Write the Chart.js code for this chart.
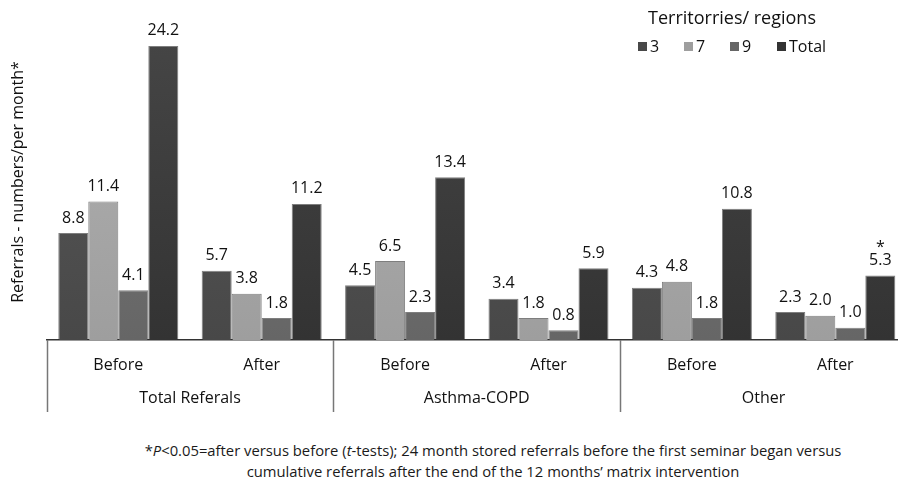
<!DOCTYPE html>
<html>
<head>
<meta charset="utf-8">
<script src="https://cdn.jsdelivr.net/npm/chart.js@4"></script>
<style>
  html, body { margin: 0; padding: 0; background: #fff; overflow: hidden; }
  #wrap { position: relative; width: 898px; height: 484px; overflow: hidden; }
  #box { position: absolute; left: 0; top: 0; width: 910px; height: 425px; }
  #note {
    position: absolute; left: 0; top: 440px; width: 986px;
    text-align: center; font-family: "Open Sans", sans-serif;
    font-size: 14.8px; line-height: 21px; color: #1a1a1a;
  }
</style>
</head>
<body>
<div id="wrap">
  <div id="box"><canvas id="chart"></canvas></div>
  <div id="note">*<i>P</i>&lt;0.05=after versus before (<i>t</i>-tests); 24 month stored referrals before the first seminar began versus<br>cumulative referrals after the end of the 12 months’ matrix intervention</div>
</div>
<script>
// chart data
const periods = ['Before', 'After', 'Before', 'After', 'Before', 'After'];
const groups = ['Total Referals', 'Asthma-COPD', 'Other'];
const seriesNames = ['3', '7', '9', 'Total'];
const region3 = [8.8, 5.7, 4.5, 3.4, 4.3, 2.3];
const region7 = [11.4, 3.8, 6.5, 1.8, 4.8, 2.0];
const region9 = [4.1, 1.8, 2.3, 0.8, 1.8, 1.0];
const regionTotal = [24.2, 11.2, 13.4, 5.9, 10.8, 5.3];
const starred = [[], [], [], [], [], ['Total']];   // significance marks per category

const FONT = '"Open Sans", sans-serif';

// top/bottom shades for each series (slight vertical gradient like the original)
const shades = [
    ['#5a5a5a', '#484848'],
    ['#b2b2b2', '#9e9e9e'],
    ['#7a7a7a', '#666666'],
    ['#464646', '#333333']
];

function gradientFor(i) {
    return function (ctx) {
        const area = ctx.chart.chartArea;
        if (!area) return shades[i][1];
        const g = ctx.chart.ctx.createLinearGradient(0, area.top, 0, area.bottom);
        g.addColorStop(0, shades[i][0]);
        g.addColorStop(1, shades[i][1]);
        return g;
    };
}

// value labels above bars
const valueLabels = {
    id: 'valueLabels',
    afterDatasetsDraw(chart) {
        const ctx = chart.ctx;
        ctx.save();
        ctx.fillStyle = '#111';
        ctx.font = '16px ' + FONT;
        ctx.textAlign = 'center';
        ctx.textBaseline = 'middle';
        chart.data.datasets.forEach((ds, di) => {
            chart.getDatasetMeta(di).data.forEach((bar, i) => {
                const y = bar.y - 15;
                ctx.fillText(ds.data[i].toFixed(1), bar.x, y);
                if (starred[i].indexOf(ds.label) >= 0) {
                    ctx.fillText('*', bar.x, y - 13);
                }
            });
        });
        ctx.restore();
    }
};

// two-level category axis with separators
const groupAxis = {
    id: 'groupAxis',
    afterDraw(chart) {
        const ctx = chart.ctx;
        const x = chart.scales.x;
        const area = chart.chartArea;
        const step = x.getPixelForTick(1) - x.getPixelForTick(0);
        ctx.save();
        ctx.fillStyle = '#111';
        ctx.font = '16px ' + FONT;
        ctx.textAlign = 'center';
        ctx.textBaseline = 'middle';
        periods.forEach((p, i) => ctx.fillText(p, x.getPixelForTick(i), area.bottom + 25));
        ctx.strokeStyle = '#777';
        ctx.lineWidth = 1.5;
        groups.forEach((g, gi) => {
            const left = x.getPixelForTick(gi * 2) - step / 2;
            const right = x.getPixelForTick(gi * 2 + 1) + step / 2;
            ctx.fillText(g, (left + right) / 2, area.bottom + 58);
            ctx.beginPath();
            ctx.moveTo(Math.round(left) + 0.5, area.bottom);
            ctx.lineTo(Math.round(left) + 0.5, area.bottom + 72);
            ctx.stroke();
        });
        ctx.restore();
    }
};

// legend with title, top right
const legendBox = {
    id: 'legendBox',
    afterDraw(chart) {
        const ctx = chart.ctx;
        ctx.save();
        ctx.fillStyle = '#111';
        ctx.textBaseline = 'middle';
        ctx.textAlign = 'left';
        ctx.font = '18px ' + FONT;
        ctx.fillText('Territorries/ regions', 648, 19);
        ctx.font = '16px ' + FONT;
        const xs = [638, 684, 730, 777];
        seriesNames.forEach((n, i) => {
            ctx.fillStyle = shades[i][1];
            ctx.fillRect(xs[i], 42, 9, 9);
            ctx.fillStyle = '#111';
            ctx.fillText(n, xs[i] + 12, 47);
        });
        ctx.restore();
    }
};

const seriesValues = [region3, region7, region9, regionTotal];

new Chart(document.getElementById('chart'), {
    type: 'bar',
    data: {
        labels: periods,
        datasets: seriesNames.map((n, i) => ({
            label: n,
            data: seriesValues[i],
            backgroundColor: gradientFor(i),
            borderColor: 'rgba(40,40,40,0.6)',
            borderWidth: 1,
            categoryPercentage: 0.837,
            barPercentage: 1.0
        }))
    },
    options: {
        responsive: true,
        maintainAspectRatio: false,
        animation: false,
        layout: { padding: { top: 24, right: 3, left: 0, bottom: 0 } },
        plugins: {
            legend: { display: false },
            tooltip: { enabled: false }
        },
        scales: {
            x: {
                ticks: { display: false },
                grid: { display: false },
                border: { display: true, color: '#333', width: 1.5 },
                afterFit: function (s) { s.height = 85; }
            },
            y: {
                min: 0,
                max: 26,
                ticks: { display: false },
                grid: { display: false },
                border: { display: false },
                title: {
                    display: true,
                    text: 'Referrals - numbers/per month*',
                    color: '#111',
                    font: { family: FONT, size: 16 },
                    padding: { top: 9, bottom: 0 }
                },
                afterFit: function (s) { s.width = 46.6; }
            }
        }
    },
    plugins: [valueLabels, groupAxis, legendBox]
});
</script>
</body>
</html>
